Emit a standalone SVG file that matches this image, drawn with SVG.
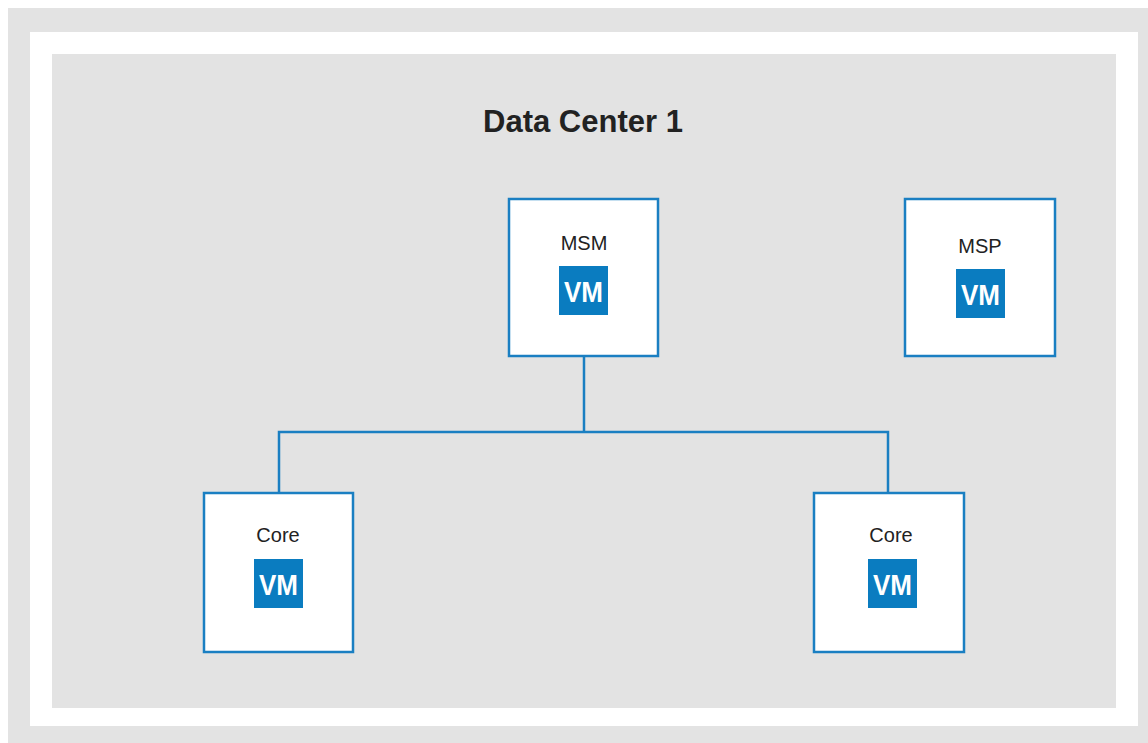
<svg xmlns="http://www.w3.org/2000/svg" width="1148" height="743" viewBox="0 0 1148 743">
<style>
.node{fill:#ffffff;stroke:#1a7fc2;stroke-width:2.5}
.vm{fill:#0a7cc0}
.vmt{font-family:"Liberation Sans",Arial,sans-serif;font-weight:bold;font-size:30px;fill:#ffffff;text-anchor:middle}
.lbl{font-family:"Liberation Sans",Arial,sans-serif;font-size:20px;fill:#222222;text-anchor:middle}
.title{font-family:"Liberation Sans",Arial,sans-serif;font-weight:bold;font-size:31px;fill:#222222;text-anchor:middle}
.conn{fill:none;stroke:#1a7fc2;stroke-width:2.5}
</style>
<rect x="0" y="0" width="1148" height="743" fill="#ffffff"/>
<rect x="8" y="8" width="1140" height="735" fill="#e3e3e3"/>
<rect x="30" y="32" width="1108" height="694" fill="#ffffff"/>
<rect x="52" y="54" width="1064" height="654" fill="#e3e3e3"/>
<text class="title" x="583" y="132">Data Center 1</text>
<g id="connectors">
<polyline class="conn" points="584,357 584,432"/>
<polyline class="conn" points="279,493 279,432 888,432 888,493"/>
</g>
<g id="msm">
<rect class="node" x="509" y="199" width="149" height="157"/>
<text class="lbl" x="584" y="250">MSM</text>
<rect class="vm" x="559" y="266" width="49" height="49"/>
<text class="vmt" x="583.5" y="302" textLength="39" lengthAdjust="spacingAndGlyphs">VM</text>
</g>
<g id="msp">
<rect class="node" x="905" y="199" width="150" height="157"/>
<text class="lbl" x="980" y="253">MSP</text>
<rect class="vm" x="956" y="269" width="49" height="49"/>
<text class="vmt" x="980.5" y="305" textLength="39" lengthAdjust="spacingAndGlyphs">VM</text>
</g>
<g id="core1">
<rect class="node" x="204" y="493" width="149" height="159"/>
<text class="lbl" x="278" y="542">Core</text>
<rect class="vm" x="254" y="559" width="49" height="49"/>
<text class="vmt" x="278.5" y="595" textLength="39" lengthAdjust="spacingAndGlyphs">VM</text>
</g>
<g id="core2">
<rect class="node" x="814" y="493" width="150" height="159"/>
<text class="lbl" x="891" y="542">Core</text>
<rect class="vm" x="868" y="559" width="49" height="49"/>
<text class="vmt" x="892.5" y="595" textLength="39" lengthAdjust="spacingAndGlyphs">VM</text>
</g>
</svg>
